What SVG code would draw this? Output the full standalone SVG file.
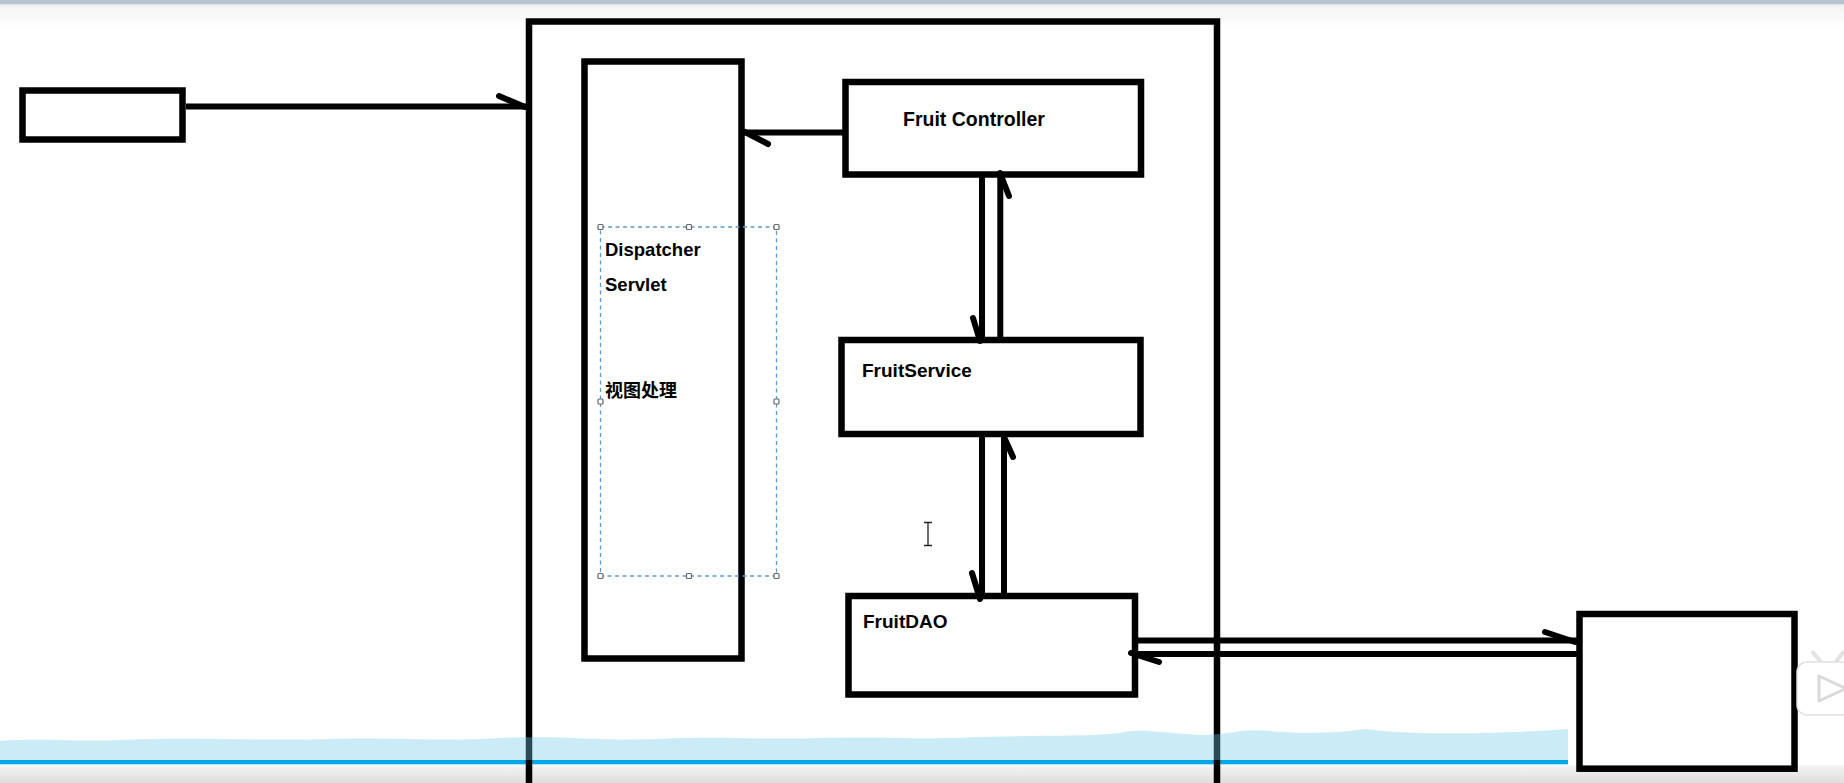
<svg xmlns="http://www.w3.org/2000/svg" width="1844" height="783" viewBox="0 0 1844 783">
<style>
.box{fill:none;stroke:#000;stroke-width:6.5}
.ln{fill:none;stroke:#000;stroke-width:6}
.barb{fill:none;stroke:#000;stroke-width:6;stroke-linecap:round}
.t{font-family:"Liberation Sans","Noto Sans CJK SC",sans-serif;font-weight:bold;fill:#000}
.cjk{font-family:"Noto Sans CJK SC","Liberation Sans",sans-serif;font-weight:bold;fill:#000}
.h{fill:#fff;stroke:#666;stroke-width:1.2}
</style>
<defs>
<linearGradient id="topg" x1="0" y1="0" x2="0" y2="1"><stop offset="0" stop-color="#f2f2f2"/><stop offset="1" stop-color="#ffffff"/></linearGradient>
<linearGradient id="botg" x1="0" y1="0" x2="0" y2="1"><stop offset="0" stop-color="#f5f5f5"/><stop offset="1" stop-color="#dedede"/></linearGradient>
</defs>
<rect width="1844" height="783" fill="#fff"/>
<g id="chrome">
<rect x="0" y="5" width="1844" height="22" fill="url(#topg)"/>
<rect x="0" y="0" width="1844" height="4" fill="#b8c4d2"/>
<rect x="0" y="4" width="1844" height="1.2" fill="#dbe3ea"/>
<rect x="0" y="765" width="1844" height="18" fill="url(#botg)"/>
<rect x="0" y="760" width="1568" height="4.3" fill="#00a6e6"/>
</g>
<g id="outer">
<path class="box" d="M529,790 V21.5 H1217 V790"/>
</g>
<g id="client">
<rect class="box" x="22.5" y="90.5" width="160" height="49"/>
</g>
<g id="dispatcher">
<rect class="box" x="584.5" y="61.5" width="157" height="597"/>
<text class="t" x="605" y="256" font-size="18.5">Dispatcher</text>
<text class="t" x="605" y="291" font-size="18.5">Servlet</text>
<text class="cjk" x="605" y="397" font-size="18">视图处理</text>
</g>
<g id="selection">
<rect x="600.5" y="227" width="176" height="349" fill="none" stroke="#5b9bd5" stroke-width="1.3" stroke-dasharray="4 3.5"/>
<rect class="h" x="598" y="224.5" width="5" height="5" rx="1"/>
<rect class="h" x="686.5" y="224.5" width="5" height="5" rx="1"/>
<rect class="h" x="774" y="224.5" width="5" height="5" rx="1"/>
<rect class="h" x="598" y="399" width="5" height="5" rx="1"/>
<rect class="h" x="774" y="399" width="5" height="5" rx="1"/>
<rect class="h" x="598" y="573.5" width="5" height="5" rx="1"/>
<rect class="h" x="686.5" y="573.5" width="5" height="5" rx="1"/>
<rect class="h" x="774" y="573.5" width="5" height="5" rx="1"/>
</g>
<g id="controller">
<rect class="box" x="845.5" y="82" width="295.5" height="92.5"/>
<text class="t" x="903" y="126" font-size="19.5">Fruit Controller</text>
</g>
<g id="service">
<rect class="box" x="841.5" y="340" width="299" height="94"/>
<text class="t" x="862" y="377" font-size="19">FruitService</text>
</g>
<g id="dao">
<rect class="box" x="848.5" y="596" width="286.5" height="98.5"/>
<text class="t" x="863" y="628" font-size="19">FruitDAO</text>
</g>
<g id="database">
<rect class="box" x="1579.5" y="614" width="215" height="154.7"/>
</g>
<g id="connectors">
<path class="ln" d="M186,106.5 H526"/>
<path class="barb" d="M499,96 L525,107"/>
<path class="ln" d="M845,132.5 H744"/>
<path class="barb" d="M745,132 L768,144"/>
<path class="ln" d="M982,176 V341"/>
<path class="barb" d="M973,318 L980,341"/>
<path class="ln" d="M1000.3,340 V173"/>
<path class="barb" d="M1000,173 L1009,196"/>
<path class="ln" d="M982,434 V599"/>
<path class="barb" d="M972,573 L980,599"/>
<path class="ln" d="M1004,597 V436"/>
<path class="barb" d="M1004,437 L1013,457"/>
<path class="ln" d="M1135,640.5 H1577" stroke-width="5.5"/>
<path class="barb" d="M1545,632 L1575,642"/>
<path class="ln" d="M1135,654 H1577" stroke-width="6.5"/>
<path class="barb" d="M1131,653 L1159,662"/>
</g>
<g id="cursor" fill="none" stroke="#222" stroke-width="1.3">
<path d="M928,523 V545 M924,522.5 H932 M924,545.5 H932"/>
</g>
<g id="overlay">
<path d="M0,741 C40,738 80,742 120,740 C200,737 260,741 330,739 C400,737 440,742 500,738 C560,735 600,741 660,739 C720,736 760,740 820,738 C880,736 930,740 980,737 C1040,735 1080,737 1120,733 C1140,728 1160,733 1200,735 C1230,735 1240,728 1270,731 C1300,734 1340,733 1366,729 C1390,733 1440,734 1480,733 C1520,732 1540,731 1568,729 V760 H0 Z" fill="rgb(113,200,230)" fill-opacity="0.37"/>
</g>
<g id="badge">
<path d="M1813,652.5 L1821,662 M1843,652.5 L1836,662" stroke="#e2e2e2" stroke-width="4" stroke-linecap="round" fill="none"/>
<rect x="1797" y="662" width="70" height="53" rx="10" fill="#fff" stroke="#e0e0e0" stroke-width="1.5"/>
<path d="M1819,676 L1819,701 L1846,688.5 Z" fill="#fff" stroke="#dadada" stroke-width="3" stroke-linejoin="round"/>
</g>
</svg>
